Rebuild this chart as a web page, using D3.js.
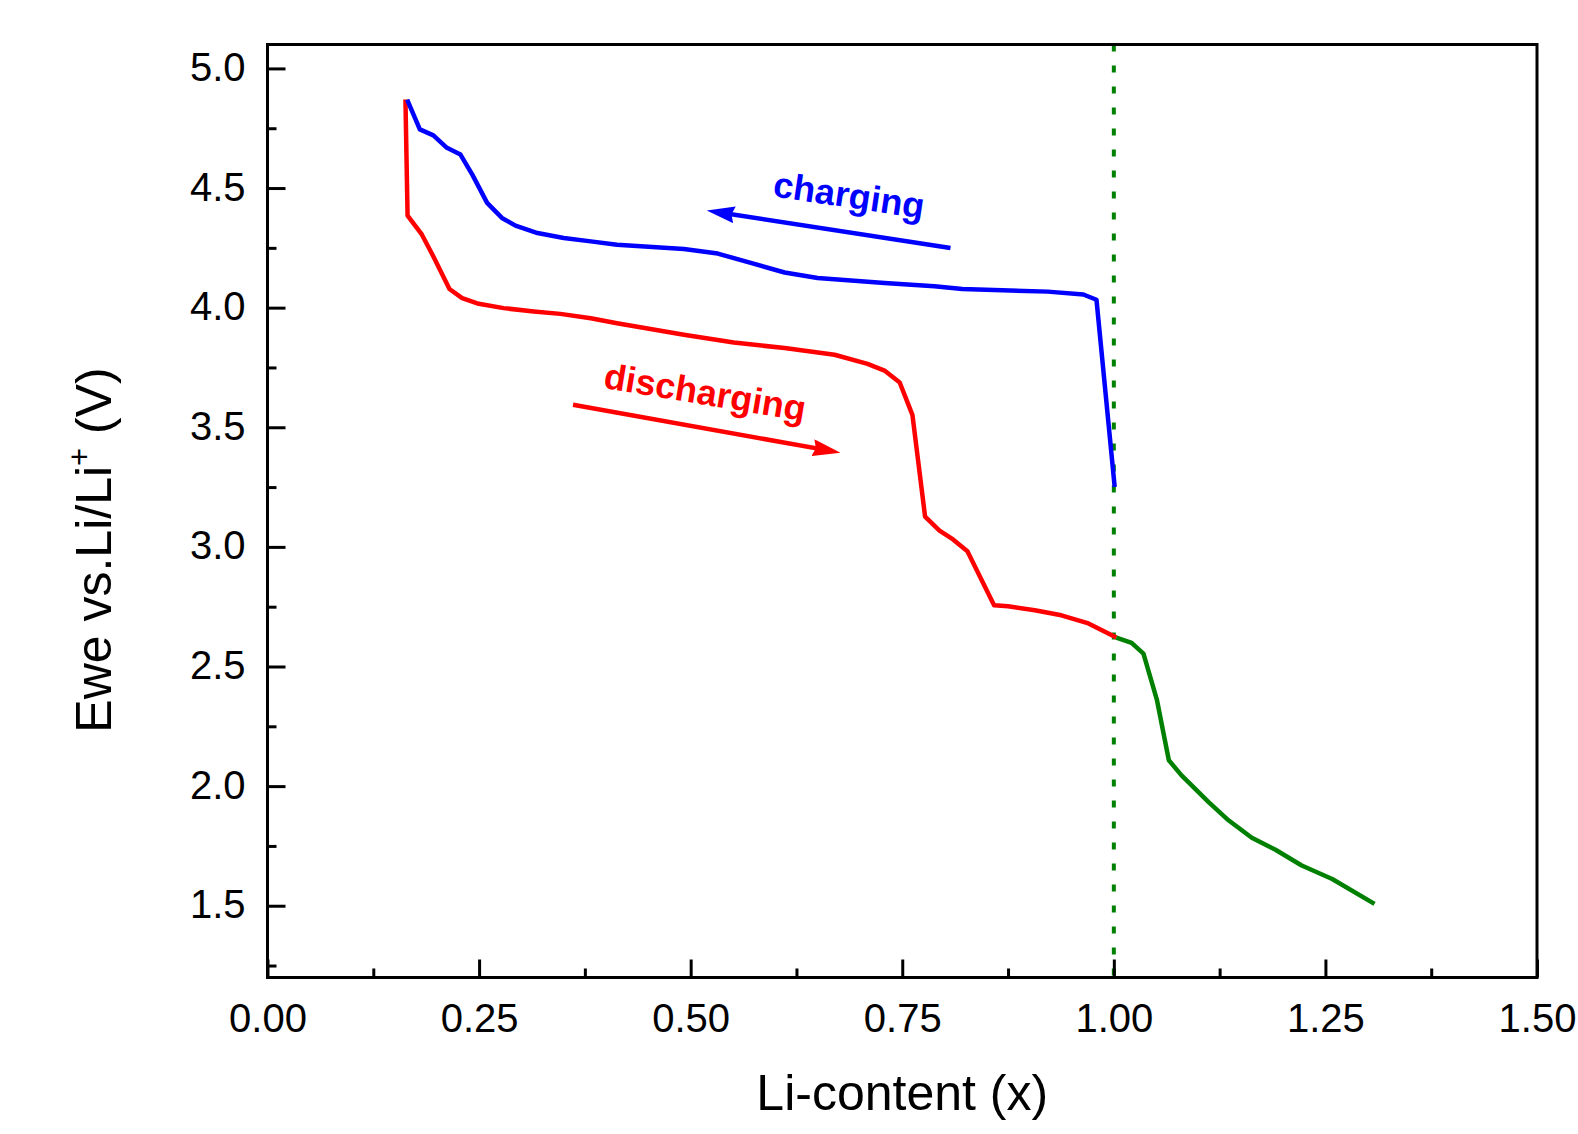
<!DOCTYPE html>
<html>
<head>
<meta charset="utf-8">
<script src="https://cdn.jsdelivr.net/npm/d3@7"></script>
<style>
  body { margin: 0; background: #fff; }
  text { font-family: "Liberation Sans", Arial, sans-serif; }
</style>
</head>
<body>
<script>
// charge curve (blue), Li-content vs voltage
var chargeX = [0.165, 0.180, 0.196, 0.212, 0.228, 0.242, 0.2595, 0.277, 0.293, 0.319, 0.350, 0.382, 0.413, 0.492, 0.532, 0.571, 0.611, 0.650, 0.729, 0.788, 0.821, 0.922, 0.964, 0.9795, 1.001];
var chargeV = [4.87, 4.745, 4.72, 4.668, 4.64, 4.556, 4.438, 4.375, 4.343, 4.312, 4.291, 4.277, 4.263, 4.245, 4.226, 4.187, 4.147, 4.124, 4.103, 4.089, 4.078, 4.067, 4.055, 4.033, 3.25];

// discharge curve (red)
var dischargeX = [0.163, 0.1655, 0.1825, 0.196, 0.215, 0.230, 0.2496, 0.279, 0.3147, 0.346, 0.382, 0.413, 0.492, 0.551, 0.611, 0.670, 0.709, 0.729, 0.747, 0.762, 0.777, 0.794, 0.810, 0.827, 0.8585, 0.875, 0.9066, 0.938, 0.970, 1.003];
var dischargeV = [4.87, 4.385, 4.305, 4.214, 4.078, 4.04, 4.016, 3.998, 3.984, 3.974, 3.956, 3.935, 3.887, 3.854, 3.831, 3.803, 3.765, 3.737, 3.687, 3.552, 3.126, 3.068, 3.031, 2.982, 2.756, 2.752, 2.735, 2.714, 2.680, 2.621];

// over-discharge part (green)
var overX = [1.003, 1.021, 1.035, 1.051, 1.065, 1.080, 1.112, 1.1355, 1.163, 1.191, 1.222, 1.258, 1.308];
var overV = [2.621, 2.599, 2.554, 2.359, 2.108, 2.045, 1.933, 1.857, 1.784, 1.734, 1.668, 1.612, 1.508];

var xTicks = [0, 0.25, 0.5, 0.75, 1.0, 1.25, 1.5];
var xMinor = [0.125, 0.375, 0.625, 0.875, 1.125, 1.375];
var yTicks = [1.5, 2.0, 2.5, 3.0, 3.5, 4.0, 4.5, 5.0];
var yMinor = [1.25, 1.75, 2.25, 2.75, 3.25, 3.75, 4.25, 4.75];

var cutoffX = 1.0;

// annotation arrows in data coords: [x0, v0, x1, v1]
var chargeArrow = [0.807, 4.249, 0.519, 4.406];
var dischargeArrow = [0.361, 3.594, 0.677, 3.394];

var W = 1578, H = 1134;
var pL = 267.5, pR = 1537, pT = 44.5, pB = 977.5;

var svg = d3.select('body').append('svg').attr('width', W).attr('height', H);

var x = d3.scaleLinear().domain([0, 1.5]).range([pL, pR]);
var y = d3.scaleLinear().domain([1.2, 5.1]).range([pB, pT]);

var defs = svg.append('defs');
function marker(id, color) {
    defs.append('marker')
        .attr('id', id)
        .attr('viewBox', '0 0 28 17')
        .attr('refX', 18).attr('refY', 8.5)
        .attr('markerUnits', 'userSpaceOnUse')
        .attr('markerWidth', 28).attr('markerHeight', 17)
        .attr('orient', 'auto')
        .append('path')
        .attr('d', 'M0,0 L28,8.5 L0,17 L3,8.5 Z')
        .attr('fill', color);
}
marker('headBlue', '#0000ff');
marker('headRed', '#ff0000');

// dotted line at x = 1
svg.append('line')
    .attr('x1', x(cutoffX)).attr('x2', x(cutoffX))
    .attr('y1', pT).attr('y2', pB)
    .attr('stroke', '#008000')
    .attr('stroke-width', 4)
    .attr('stroke-dasharray', '7,14');

var line = d3.line()
    .x(function(d) { return x(d[0]); })
    .y(function(d) { return y(d[1]); });

function curve(xs, vs, color) {
    svg.append('path')
        .attr('d', line(d3.zip(xs, vs)))
        .attr('fill', 'none')
        .attr('stroke', color)
        .attr('stroke-width', 4.5)
        .attr('stroke-linejoin', 'round');
}
curve(dischargeX, dischargeV, '#ff0000');
curve(overX, overV, '#008000');
curve(chargeX, chargeV, '#0000ff');

// axes frame
svg.append('rect')
    .attr('x', pL).attr('y', pT)
    .attr('width', pR - pL).attr('height', pB - pT)
    .attr('fill', 'none')
    .attr('stroke', '#000')
    .attr('stroke-width', 3);

var xAxis = d3.axisBottom(x).tickValues(xTicks).tickSize(-18).tickPadding(0)
    .tickFormat(d3.format('.2f'));
var gx = svg.append('g').attr('transform', 'translate(0,' + pB + ')').call(xAxis);
gx.select('.domain').remove();
gx.selectAll('.tick line').attr('stroke-width', 3);
gx.selectAll('.tick text')
    .attr('y', 54).attr('dy', null)
    .attr('font-size', 40).attr('fill', '#000')
    .style('font-family', '"Liberation Sans", Arial, sans-serif');

var gxm = svg.append('g').attr('transform', 'translate(0,' + pB + ')')
    .call(d3.axisBottom(x).tickValues(xMinor).tickSize(-9).tickFormat(''));
gxm.select('.domain').remove();
gxm.selectAll('.tick line').attr('stroke-width', 3);

var yAxis = d3.axisLeft(y).tickValues(yTicks).tickSize(-18).tickPadding(0)
    .tickFormat(d3.format('.1f'));
var gy = svg.append('g').attr('transform', 'translate(' + pL + ',0)').call(yAxis);
gy.select('.domain').remove();
gy.selectAll('.tick line').attr('stroke-width', 3);
gy.selectAll('.tick text')
    .attr('x', -22).attr('dy', 12)
    .attr('font-size', 40).attr('fill', '#000')
    .style('font-family', '"Liberation Sans", Arial, sans-serif');

var gym = svg.append('g').attr('transform', 'translate(' + pL + ',0)')
    .call(d3.axisLeft(y).tickValues(yMinor).tickSize(-9).tickFormat(''));
gym.select('.domain').remove();
gym.selectAll('.tick line').attr('stroke-width', 3);

// axis titles
svg.append('text')
    .attr('x', (pL + pR) / 2).attr('y', 1110)
    .attr('text-anchor', 'middle')
    .attr('font-size', 50)
    .text('Li-content (x)');

var yt = svg.append('text')
    .attr('transform', 'translate(111,550) rotate(-90)')
    .attr('text-anchor', 'middle')
    .attr('font-size', 50);
yt.append('tspan').text('Ewe vs.Li/Li');
yt.append('tspan').attr('font-size', 31).attr('dy', -21).text('+');
yt.append('tspan').attr('dy', 21).text(' (V)');

// annotations
function arrow(a, color, head) {
    var x0 = x(a[0]), y0 = y(a[1]), x1 = x(a[2]), y1 = y(a[3]);
    var len = Math.hypot(x1 - x0, y1 - y0);
    var k = (len - 10) / len;
    svg.append('line')
        .attr('x1', x0).attr('y1', y0)
        .attr('x2', x0 + (x1 - x0) * k).attr('y2', y0 + (y1 - y0) * k)
        .attr('stroke', color)
        .attr('stroke-width', 4.5)
        .attr('marker-end', 'url(#' + head + ')');
}
arrow(chargeArrow, '#0000ff', 'headBlue');
arrow(dischargeArrow, '#ff0000', 'headRed');

svg.append('text')
    .attr('transform', 'translate(' + x(0.685) + ',' + y(4.419) + ') rotate(8.5)')
    .attr('text-anchor', 'middle')
    .attr('font-size', 36).attr('font-weight', 'bold')
    .attr('fill', '#0000ff')
    .text('charging');

svg.append('text')
    .attr('transform', 'translate(' + x(0.5146) + ',' + y(3.595) + ') rotate(9.5)')
    .attr('text-anchor', 'middle')
    .attr('font-size', 36).attr('font-weight', 'bold')
    .attr('fill', '#ff0000')
    .text('discharging');
</script>
</body>
</html>
